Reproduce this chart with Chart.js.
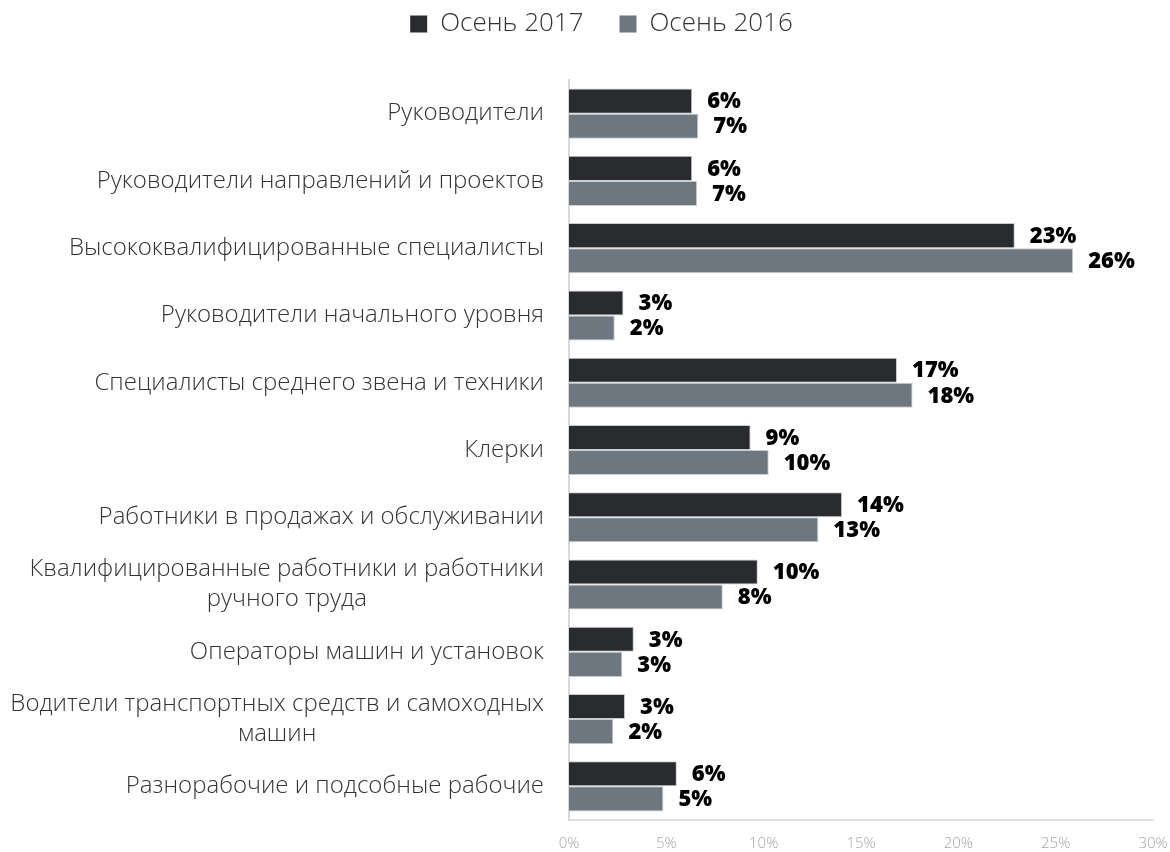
<!DOCTYPE html>
<html>
<head>
<meta charset="utf-8">
<script src="https://cdn.jsdelivr.net/npm/chart.js@4"></script>
<style>
  html, body { margin: 0; padding: 0; background: #fff; }
  #wrap { width: 1170px; height: 852px; }
</style>
</head>
<body>
<div id="wrap"><canvas id="chart"></canvas></div>
<script>
// Data
const categories = [
    ['Руководители'],
    ['Руководители направлений и проектов'],
    ['Высококвалифицированные специалисты'],
    ['Руководители начального уровня'],
    ['Специалисты среднего звена и техники'],
    ['Клерки'],
    ['Работники в продажах и обслуживании'],
    ['Квалифицированные работники и работники', 'ручного труда'],
    ['Операторы машин и установок'],
    ['Водители транспортных средств и самоходных', 'машин'],
    ['Разнорабочие и подсобные рабочие']
]
const autumn2017 = [6.33, 6.33, 22.9, 2.8, 16.85, 9.33, 14.03, 9.7, 3.33, 2.88, 5.54]
const autumn2016 = [6.64, 6.58, 25.9, 2.35, 17.65, 10.26, 12.81, 7.9, 2.74, 2.28, 4.85]
const seriesNames = ['Осень 2017', 'Осень 2016']
const xTicks = [0, 5, 10, 15, 20, 25, 30]

const FONT = '"Open Sans", "DejaVu Sans", sans-serif'

// Legend block: fixed height, drawn a bit higher and to the right
const legendHeight = {
    id: 'legendHeight',
    beforeInit(chart) {
        const legend = chart.legend
        const fit = legend.fit
        legend.fit = function () {
            fit.bind(this)()
            this.height = 80
        }
        const draw = legend.draw
        legend.draw = function () {
            this.ctx.save()
            this.ctx.translate(25, -25)
            draw.bind(this)()
            this.ctx.restore()
        }
    }
}

// Category labels on the left, multi-line ones centered
const yLabels = {
    id: 'yLabels',
    afterDraw(chart) {
        const ctx = chart.ctx
        const yScale = chart.scales.y
        const right = chart.chartArea.left - 25
        const lineH = 30
        ctx.save()
        ctx.font = '300 24px ' + FONT
        ctx.fillStyle = '#333333'
        ctx.textBaseline = 'middle'
        categories.forEach((lines, i) => {
            const y = yScale.getPixelForValue(i)
            const startY = y - (lines.length - 1) * lineH / 2
            if (lines.length === 1) {
                ctx.textAlign = 'right'
                ctx.fillText(lines[0], right, y)
            } else {
                const widest = Math.max(...lines.map(l => ctx.measureText(l).width))
                const cx = right - widest / 2
                ctx.textAlign = 'center'
                lines.forEach((l, k) => ctx.fillText(l, cx, startY + k * lineH))
            }
        })
        ctx.restore()
    }
}

// Value labels right of the bars
const valueLabels = {
    id: 'valueLabels',
    afterDatasetsDraw(chart) {
        const ctx = chart.ctx
        ctx.save()
        ctx.font = '800 22px ' + FONT
        ctx.fillStyle = '#000000'
        ctx.textAlign = 'left'
        ctx.textBaseline = 'middle'
        chart.data.datasets.forEach((ds, di) => {
            const meta = chart.getDatasetMeta(di)
            meta.data.forEach((bar, i) => {
                ctx.fillText(Math.round(ds.data[i]) + '%', bar.x + 15, bar.y + 1)
            })
        })
        ctx.restore()
    }
}

new Chart(document.getElementById('chart'), {
    type: 'bar',
    data: {
        labels: categories.map(c => c.join(' ')),
        datasets: [{
            label: seriesNames[0],
            data: autumn2017,
            backgroundColor: '#2a2b2e',
            borderColor: '#c9ccd0',
            borderWidth: 1,
            categoryPercentage: 0.745,
            barPercentage: 1
        }, {
            label: seriesNames[1],
            data: autumn2016,
            backgroundColor: '#6d7780',
            borderColor: '#c9ccd0',
            borderWidth: 1,
            categoryPercentage: 0.745,
            barPercentage: 1
        }]
    },
    options: {
        indexAxis: 'y',
        responsive: true,
        maintainAspectRatio: false,
        animation: false,
        layout: { padding: { left: 0, right: 17, top: 0, bottom: 0 } },
        plugins: {
            tooltip: { enabled: false },
            legend: {
                position: 'top',
                labels: {
                    boxWidth: 17,
                    boxHeight: 17,
                    padding: 36,
                    color: '#333333',
                    font: { family: FONT, size: 26, weight: '300' },
                    generateLabels(chart) {
                        const items = Chart.defaults.plugins.legend.labels.generateLabels(chart)
                        items.forEach(it => { it.lineWidth = 0; it.strokeStyle = it.fillStyle })
                        return items
                    }
                }
            }
        },
        scales: {
            x: {
                min: 0,
                max: 30,
                afterBuildTicks(scale) {
                    scale.ticks = xTicks.map(v => ({ value: v }))
                },
                afterFit(scale) {
                    scale.height = 32
                    scale.paddingLeft = 0
                    scale.paddingRight = 0
                },
                grid: { display: false, drawTicks: false },
                border: { display: true, color: '#dde1e5', width: 2 },
                ticks: {
                    padding: 15,
                    color: '#a6a6a6',
                    font: { family: FONT, size: 15, weight: '300' },
                    callback: v => v + '%'
                }
            },
            y: {
                grid: { display: false, drawTicks: false },
                border: { display: true, color: '#d9d9d9', width: 2 },
                ticks: { display: false },
                afterFit(scale) { scale.width = 569 }
            }
        }
    },
    plugins: [legendHeight, yLabels, valueLabels]
})
</script>
</body>
</html>
